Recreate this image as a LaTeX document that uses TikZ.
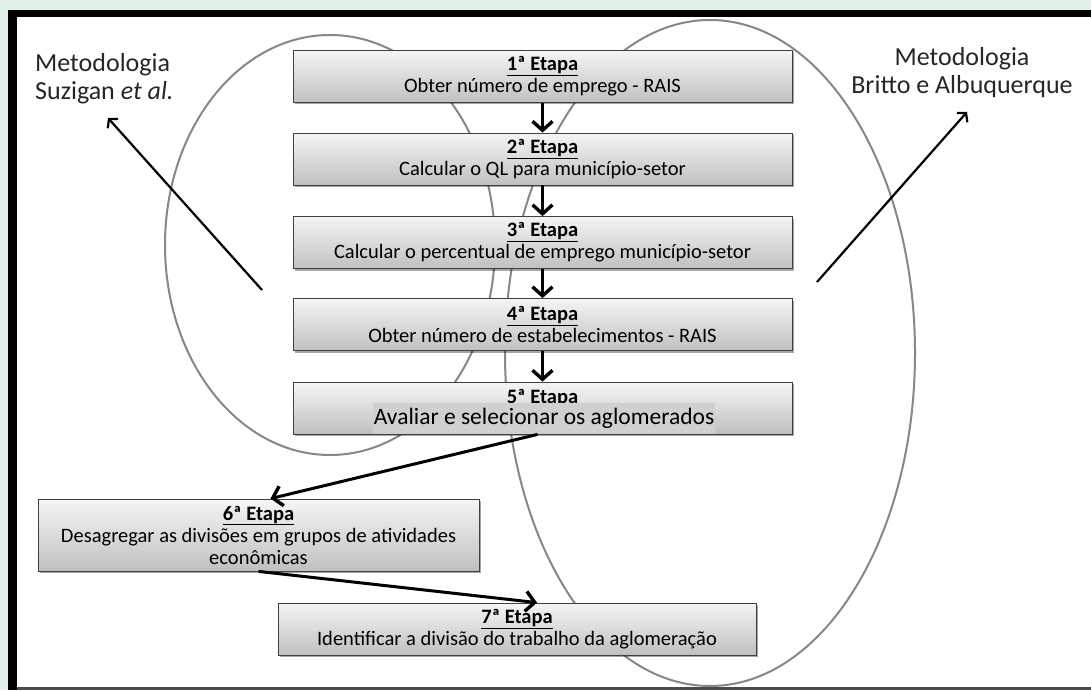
\documentclass[tikz,border=0pt]{standalone}
\usepackage{fontspec}
\setmainfont{Carlito}
\usetikzlibrary{arrows.meta,shadows}
\definecolor{mint}{RGB}{226,242,233}
\definecolor{boxtop}{RGB}{245,245,245}
\definecolor{boxbot}{RGB}{192,192,192}
\definecolor{hilite}{RGB}{208,208,208}
\definecolor{loopgray}{RGB}{135,135,135}
\tikzset{
  stepbox/.style={draw=black!75, line width=0.8pt, top color=boxtop, bottom color=boxbot,
    minimum width=499pt, minimum height=52pt, align=center, inner sep=0pt,
    font=\fontsize{20.5}{22}\selectfont,
    drop shadow={shadow xshift=2pt, shadow yshift=-2pt, opacity=0.35, fill=black}},
  flow/.style={line width=3pt, -{Straight Barb[length=9pt,width=20pt,line width=3.4pt]}},
  pointer/.style={line width=2.2pt, -{Straight Barb[length=6pt,width=14pt]}},
  oval/.style={draw=loopgray, line width=2pt},
  note/.style={inner sep=0pt, font=\fontsize{26}{28}\selectfont, text=black!85}
}
\begin{document}
\begin{tikzpicture}[x=1pt,y=-1pt]
  \useasboundingbox (0,0) rectangle (1091,690);
  % frame
  \fill[mint] (0,0) rectangle (1091,690);
  \fill[white] (17,17) rectangle (1091,688);
  \fill[black] (8,10) rectangle (1091,17);
  \fill[black] (8,10) rectangle (17,690);
  \fill[black!70] (17,687) rectangle (1091,690);
  % the two methodologies
  \draw[oval] (330,245) ellipse[x radius=165, y radius=210];
  \draw[oval] (710,353) ellipse[x radius=205, y radius=333];
  % steps
  \node[stepbox] (s1) at (542.5,76.5) {\underline{\textbf{1ª Etapa}}\\Obter número de emprego - RAIS};
  \node[stepbox] (s2) at (542.5,159) {\underline{\textbf{2ª Etapa}}\\Calcular o QL para município-setor};
  \node[stepbox] (s3) at (542.5,242.5) {\underline{\textbf{3ª Etapa}}\\Calcular o percentual de emprego município-setor};
  \node[stepbox] (s4) at (542.5,324.5) {\underline{\textbf{4ª Etapa}}\\Obter número de estabelecimentos - RAIS};
  \node[stepbox] (s5) at (542.5,408) {};
  \node[anchor=base, inner sep=0pt, font=\fontsize{20.5}{22}\selectfont] (e5) at (542.5,403) {\underline{\textbf{5ª Etapa}}};
  \node[fill=hilite, inner xsep=0.5pt, inner ysep=0pt, minimum height=31pt, font=\fontsize{23.5}{24}\selectfont] (s5text) at (544,418) {Avaliar e selecionar os aglomerados};
  \node[stepbox, minimum width=441pt, minimum height=72pt] (s6) at (258.5,535) {\underline{\textbf{6ª Etapa}}\\Desagregar as divisões em grupos de atividades\\econômicas};
  \node[stepbox, minimum width=478pt] (s7) at (517,629) {\underline{\textbf{7ª Etapa}}\\Identificar a divisão do trabalho da aglomeração};
  % flow
  \draw[flow] (s1.south) -- (s2.north);
  \draw[flow] (s2.south) -- (s3.north);
  \draw[flow] (s3.south) -- (s4.north);
  \draw[flow] (s4.south) -- (s5.north);
  \draw[flow] ([xshift=-5pt]s5.south) -- ([xshift=12pt]s6.north);
  \draw[flow] (s6.south) -- ([xshift=20pt]s7.north);
  % labels
  \node[note, anchor=north west, align=left] (suzigan) at (35,53) {Metodologia\\Suzigan \textit{et al.}};
  \node[note, anchor=north, align=center] (britto) at (962,47) {Metodologia\\Britto e Albuquerque};
  \coordinate (sugFrom) at (262,290);
  \coordinate (sugTo) at (108,118);
  \coordinate (baFrom) at (817,282);
  \coordinate (baTo) at (967,112);
  \draw[pointer] (sugFrom) -- (sugTo);
  \draw[pointer] (baFrom) -- (baTo);
\end{tikzpicture}
\end{document}
